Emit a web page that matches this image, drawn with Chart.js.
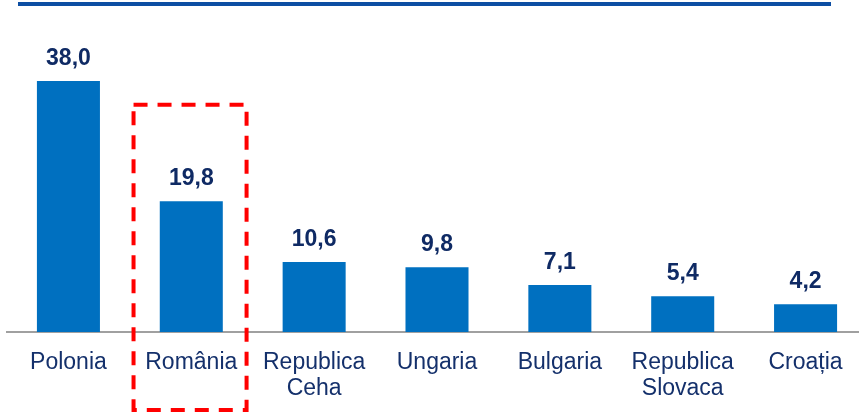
<!DOCTYPE html>
<html>
<head>
<meta charset="utf-8">
<script src="https://cdn.jsdelivr.net/npm/chart.js@4.4.0/dist/chart.umd.min.js"></script>
<style>
  html, body { margin: 0; padding: 0; background: #fff; overflow: hidden; }
  #wrap { width: 868px; height: 414px; }
</style>
</head>
<body>
<div id="wrap"><canvas id="myChart" width="868" height="414"></canvas></div>
<script>
var tari = [['Polonia'], ['România'], ['Republica', 'Ceha'], ['Ungaria'], ['Bulgaria'], ['Republica', 'Slovaca'], ['Croația']];
var valori = [38.0, 19.8, 10.6, 9.8, 7.1, 5.4, 4.2];
var evidentiat = 1; // România

var navy = '#14306b';

var etichete = {
    id: 'etichete',
    afterDatasetsDraw: function (chart) {
        var ctx = chart.ctx;
        var meta = chart.getDatasetMeta(0);
        ctx.save();
        ctx.font = 'bold 23px Arial, "Liberation Sans", sans-serif';
        ctx.fillStyle = '#0f2a64';
        ctx.textAlign = 'center';
        ctx.textBaseline = 'alphabetic';
        meta.data.forEach(function (bar, i) {
            ctx.fillText(valori[i].toFixed(1).replace('.', ','), bar.x, bar.y - 16);
        });
        ctx.restore();
    },
    afterDraw: function (chart) {
        var ctx = chart.ctx;
        var x = chart.scales.x, y = chart.scales.y;
        ctx.save();
        // linia albastra de sus
        ctx.fillStyle = '#0d4ea3';
        ctx.fillRect(18, 2, 813, 4);
        // chenarul rosu punctat
        var cw = x.width / tari.length;
        var cx = x.getPixelForValue(evidentiat);
        ctx.strokeStyle = '#ff0000';
        ctx.lineWidth = 4;
        ctx.setLineDash([14, 10]);
        ctx.strokeRect(cx - 0.47 * cw, y.getPixelForValue(34.4), 0.92 * cw, 410 - y.getPixelForValue(34.4));
        ctx.restore();
    }
};

var myChart = new Chart(document.getElementById('myChart').getContext('2d'), {
    type: 'bar',
    data: {
        labels: tari,
        datasets: [{
            data: valori,
            backgroundColor: '#0070c0',
            barPercentage: 0.513,
            categoryPercentage: 1
        }]
    },
    options: {
        responsive: false,
        animation: false,
        layout: { padding: { left: 7, right: 1, top: 15 } },
        plugins: {
            legend: { display: false },
            tooltip: { enabled: false }
        },
        scales: {
            x: {
                grid: { display: false, drawTicks: false },
                border: { display: true, color: '#a0a0a0', width: 2 },
                ticks: {
                    color: navy,
                    font: { family: 'Arial, "Liberation Sans", sans-serif', size: 23, lineHeight: 1.15 },
                    padding: 17,
                    maxRotation: 0,
                    autoSkip: false
                },
                afterFit: function (scale) { scale.height = 82; }
            },
            y: {
                display: false,
                beginAtZero: true,
                min: 0,
                max: 48
            }
        }
    },
    plugins: [etichete]
});
</script>
</body>
</html>
